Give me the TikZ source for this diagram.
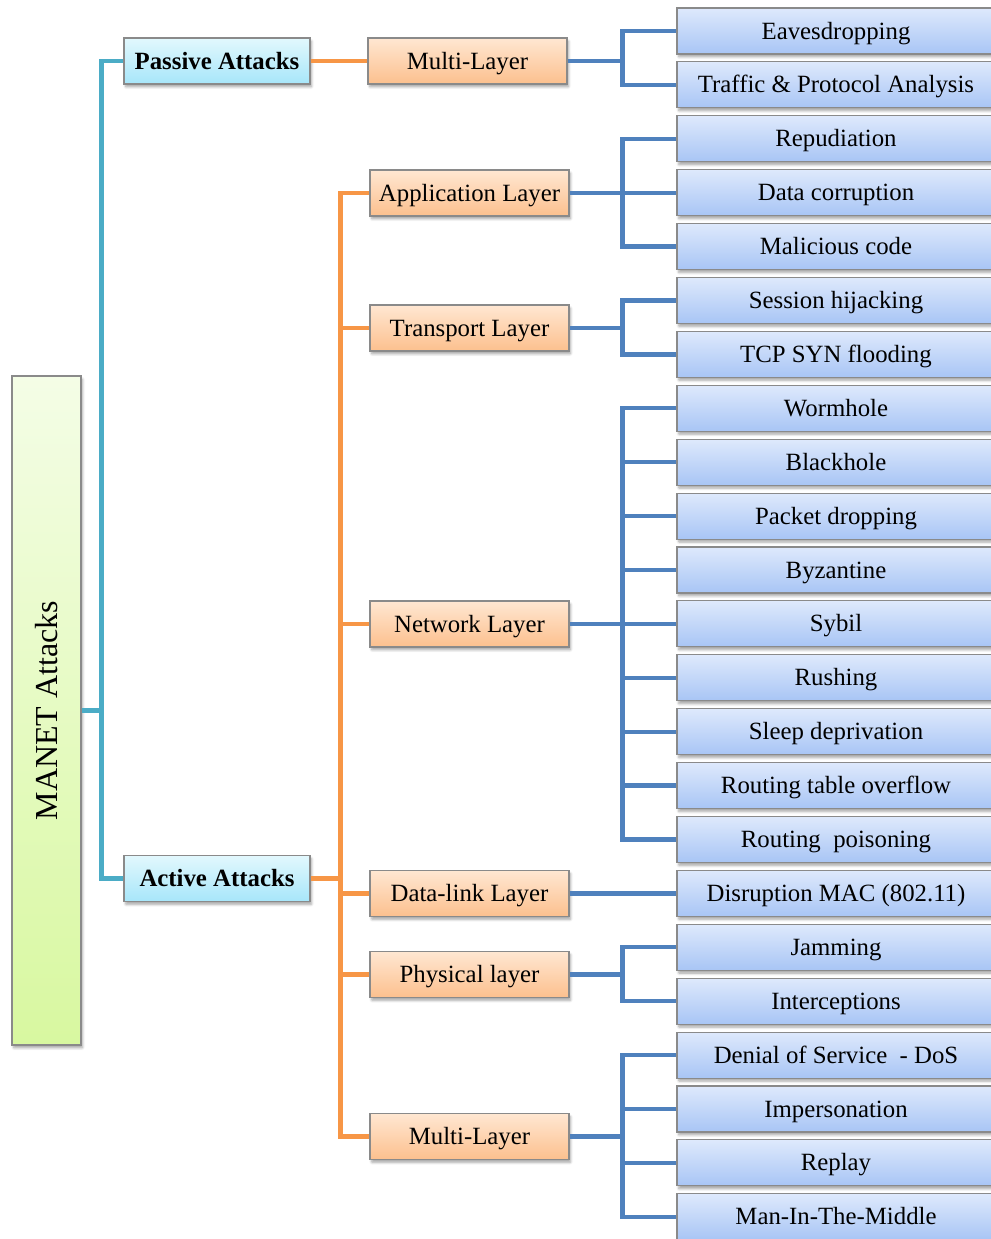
\documentclass[tikz,border=0pt]{standalone}
\usepackage{fontspec}
\setmainfont{Liberation Serif}
\usetikzlibrary{shadows.blur}
\definecolor{boxline}{HTML}{8A8A8A}
\definecolor{cyanline}{HTML}{4BACC6}
\definecolor{orangeline}{HTML}{F79646}
\definecolor{blueline}{HTML}{4F81BD}
\definecolor{rootTop}{HTML}{F4FDE6}
\definecolor{rootBot}{HTML}{D8F8A0}
\definecolor{catTop}{HTML}{E2F8FD}
\definecolor{catBot}{HTML}{A7E6FA}
\definecolor{layerTop}{HTML}{FFE7D2}
\definecolor{layerBot}{HTML}{FCC08E}
\definecolor{leafTop}{HTML}{DEE9FC}
\definecolor{leafBot}{HTML}{A8C5F5}
\tikzset{
  base/.style={draw=boxline, line width=0.8pt, inner sep=0pt,
    blur shadow={shadow xshift=1.2pt, shadow yshift=-2.2pt, shadow blur steps=6,
      shadow blur extra rounding=0.5pt, shadow opacity=35},
    font=\fontsize{18.6}{22}\selectfont, text height=15pt, text depth=3pt},
  rootbox/.style={base, minimum width=69*0.75pt, minimum height=669*0.75pt,
    top color=rootTop, bottom color=rootBot},
  catbox/.style={base, minimum width=186*0.75pt, minimum height=46*0.75pt,
    top color=catTop, bottom color=catBot, font=\fontsize{18.6}{22}\selectfont\bfseries},
  layerbox/.style={base, minimum width=199*0.75pt, minimum height=46*0.75pt,
    top color=layerTop, bottom color=layerBot},
  leafbox/.style={base, minimum width=318*0.75pt, minimum height=46*0.75pt,
    top color=leafTop, bottom color=leafBot},
  cyanconn/.style={draw=cyanline, line width=3.6pt},
  orangeconn/.style={draw=orangeline, line width=3.2pt},
  blueconn/.style={draw=blueline, line width=3.2pt},
}
\begin{document}
\begin{tikzpicture}[x=0.75pt, y=-0.75pt, line join=miter]
\useasboundingbox (0,0) rectangle (990,1239);

% root and the two attack categories
\node[rootbox] (root) at (46.5,710.5) {};
\node[rotate=90, font=\fontsize{24}{28}\selectfont] (roottext) at (root.center) {MANET Attacks};
\node[catbox] (passive) at (217,61) {Passive Attacks};
\node[catbox] (active) at (217,878.5) {Active Attacks};

% layers
\node[layerbox] (pml) at (467.5,61) {Multi-Layer};
\node[layerbox] (app) at (469.5,193) {Application Layer};
\node[layerbox] (trn) at (469.5,328) {Transport Layer};
\node[layerbox] (net) at (469.5,624) {Network Layer};
\node[layerbox] (dll) at (469.5,893.5) {Data-link Layer};
\node[layerbox] (phy) at (469.5,974.5) {Physical layer};
\node[layerbox] (aml) at (469.5,1136.5) {Multi-Layer};

% attacks, one row every 53.9 units
\foreach \i/\t in {1/Eavesdropping, 2/Traffic \& Protocol Analysis, 3/Repudiation,
  4/Data corruption, 5/Malicious code, 6/Session hijacking, 7/TCP SYN flooding,
  8/Wormhole, 9/Blackhole, 10/Packet dropping, 11/Byzantine, 12/Sybil, 13/Rushing,
  14/Sleep deprivation, 15/Routing table overflow, 16/Routing\ \ poisoning,
  17/Disruption MAC (802.11), 18/Jamming, 19/Interceptions,
  20/Denial of Service\ \ - DoS, 21/Impersonation, 22/Replay, 23/Man-In-The-Middle}
  \node[leafbox] (l\i) at (836,{31+53.9*(\i-1)}) {\t};

% connectors: root to categories
\draw[cyanconn] (root.east) -- ++(20,0) coordinate (rj);
\draw[cyanconn] (rj) |- (passive.west);
\draw[cyanconn] (rj) |- (active.west);

% categories to layers
\draw[orangeconn] (passive.east) -- (pml.west);
\draw[orangeconn] (active.east) -- ++(30,0) coordinate (oj);
\foreach \n in {app,trn,net,dll,phy,aml}
  \draw[orangeconn] (oj) |- (\n.west);

% layers to attacks
\draw[blueconn] (pml.east) -- ++(55,0) coordinate (bpml);
\foreach \k in {1,2} \draw[blueconn] (bpml) |- (l\k.west);
\draw[blueconn] (app.east) -- ++(53,0) coordinate (bapp);
\foreach \k in {3,4,5} \draw[blueconn] (bapp) |- (l\k.west);
\draw[blueconn] (trn.east) -- ++(53,0) coordinate (btrn);
\foreach \k in {6,7} \draw[blueconn] (btrn) |- (l\k.west);
\draw[blueconn] (net.east) -- ++(53,0) coordinate (bnet);
\foreach \k in {8,...,16} \draw[blueconn] (bnet) |- (l\k.west);
\draw[blueconn] (dll.east) -- (dll.east -| l17.west);
\draw[blueconn] (phy.east) -- ++(53,0) coordinate (bphy);
\foreach \k in {18,19} \draw[blueconn] (bphy) |- (l\k.west);
\draw[blueconn] (aml.east) -- ++(53,0) coordinate (baml);
\foreach \k in {20,...,23} \draw[blueconn] (baml) |- (l\k.west);
\end{tikzpicture}
\end{document}
